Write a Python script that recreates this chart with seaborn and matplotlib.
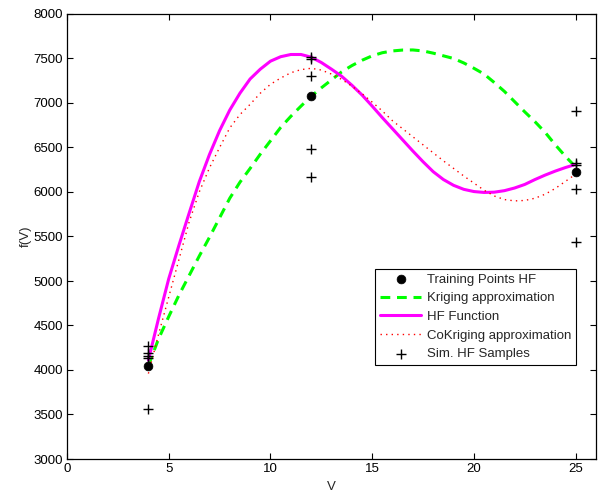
import numpy as np
import pandas as pd
import matplotlib
matplotlib.use('Agg')
import matplotlib.pyplot as plt
import seaborn as sns

# curve sample grid (V) and values
v_grid = [4, 4.5, 5, 5.5, 6, 6.5, 7, 7.5, 8, 8.5, 9, 9.5, 10, 10.5, 11, 11.5,
          12, 12.5, 13, 13.5, 14, 14.5, 15, 15.5, 16, 16.5, 17, 17.5, 18, 18.5,
          19, 19.5, 20, 20.5, 21, 21.5, 22, 22.5, 23, 23.5, 24, 24.5, 25]

hf_function = [4110, 4580, 5025, 5400, 5760, 6115, 6420, 6690, 6921, 7110, 7270, 7380,
               7470, 7520, 7545, 7545, 7515, 7455, 7380, 7300, 7200, 7090, 6965, 6835,
               6710, 6585, 6460, 6340, 6228, 6140, 6075, 6030, 6005, 5995, 5998, 6015,
               6045, 6085, 6140, 6190, 6235, 6275, 6310]

kriging = [4050, 4350, 4600, 4840, 5060, 5280, 5490, 5710, 5930, 6110, 6265, 6425,
           6575, 6725, 6850, 6965, 7075, 7170, 7260, 7350, 7420, 7480, 7530, 7565,
           7585, 7595, 7596, 7585, 7560, 7530, 7500, 7450, 7390, 7325, 7230, 7130,
           7015, 6900, 6790, 6670, 6530, 6400, 6280]

cokriging = [3960, 4400, 4820, 5240, 5660, 6000, 6270, 6500, 6720, 6870, 6985, 7110,
             7210, 7280, 7340, 7375, 7390, 7370, 7325, 7265, 7190, 7105, 7010, 6910,
             6800, 6710, 6620, 6530, 6440, 6350, 6265, 6180, 6100, 6020, 5955, 5915,
             5900, 5905, 5930, 5975, 6040, 6120, 6200]

# training points (HF)
train_v = [4, 12, 25]
train_f = [4050, 7080, 6225]

# simulated HF samples
sim_v = [4, 4, 4, 4, 4, 12, 12, 12, 12, 12, 25, 25, 25, 25, 25]
sim_f = [4270, 4190, 4160, 4130, 3565,
         7515, 7490, 7300, 6480, 6165,
         6910, 6330, 6300, 6030, 5440]

sns.set_style('ticks')
plt.rcParams['font.family'] = ['Liberation Sans', 'DejaVu Sans']

FS = 9.5

fig = plt.figure(figsize=(6.01, 4.92), dpi=100)
ax = fig.add_axes([67 / 601, 1 - 459 / 492, 529 / 601, 445 / 492])

sns.lineplot(x=v_grid, y=kriging, ax=ax, color='#00ff00', lw=2.2,
             linestyle=(0, (3.2, 2.2)), label='Kriging approximation')
sns.lineplot(x=v_grid, y=hf_function, ax=ax, color='#ff00ff', lw=2.2,
             label='HF Function')
sns.lineplot(x=v_grid, y=cokriging, ax=ax, color='#ff0000', lw=1.0,
             linestyle=(0, (1, 3)), label='CoKriging approximation')
sns.scatterplot(x=sim_v, y=sim_f, ax=ax, marker='+', color='black', s=50,
                linewidth=1.0, label='Sim. HF Samples', zorder=4)
sns.scatterplot(x=train_v, y=train_f, ax=ax, marker='o', color='black', s=40,
                edgecolor='black', label='Training Points HF', zorder=5)

ax.set_xlim(0, 26)
ax.set_ylim(3000, 8000)
ax.set_xticks([0, 5, 10, 15, 20, 25])
ax.set_yticks(np.arange(3000, 8001, 500))
ax.tick_params(direction='in', top=True, right=True, length=4, width=0.8,
               labelsize=FS, colors='black', pad=3)
for s in ax.spines.values():
    s.set_linewidth(0.9)
    s.set_color('black')
ax.set_xlabel('V', fontsize=FS)
ax.set_ylabel('f(V)', fontsize=FS)
ax.xaxis.set_label_coords(0.5, -0.049)
ax.yaxis.set_label_coords(-0.066, 0.5)

handles, labels = ax.get_legend_handles_labels()
order = ['Training Points HF', 'Kriging approximation', 'HF Function',
         'CoKriging approximation', 'Sim. HF Samples']
hmap = dict(zip(labels, handles))
leg = ax.legend([hmap[k] for k in order], order, loc='lower right',
                bbox_to_anchor=(0.962, 0.211), fontsize=FS, handlelength=3.1,
                labelspacing=0.48, borderpad=0.38, handletextpad=0.4,
                borderaxespad=0, fancybox=False, framealpha=1, edgecolor='black')
leg.get_frame().set_linewidth(0.8)

fig.savefig('out.png', dpi=100)
